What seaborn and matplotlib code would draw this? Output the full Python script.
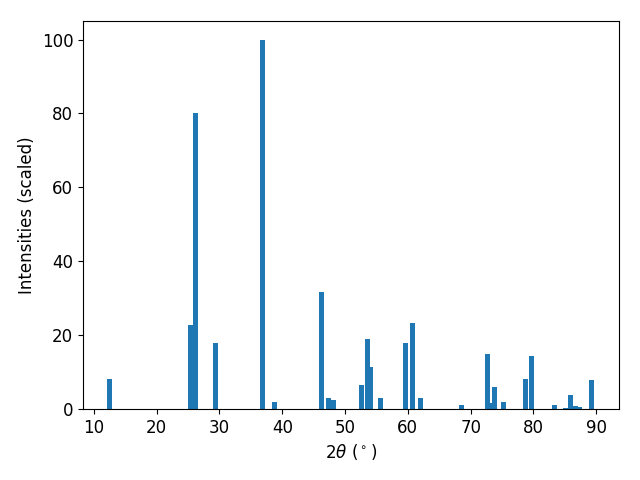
import matplotlib
matplotlib.use("Agg")
import matplotlib.pyplot as plt
import seaborn as sns

two_theta = [12.54, 25.35, 26.25, 29.3, 36.9, 38.8, 46.25, 47.36, 48.14,
             52.56, 53.6, 54.0, 55.65, 59.65, 60.67, 62.0, 68.54,
             72.67, 73.0, 73.78, 75.3, 78.7, 79.66, 83.3, 85.1, 85.9,
             86.7, 87.4, 89.2]
intensities = [8.1, 22.8, 80.2, 17.9, 100.0, 2.0, 31.7, 3.0, 2.4,
               6.5, 19.0, 11.4, 3.0, 17.9, 23.3, 3.0, 1.1,
               14.9, 1.6, 6.0, 1.9, 8.1, 14.4, 1.1, 0.3, 3.8,
               0.8, 0.6, 7.8]

sns.reset_defaults()
plt.rcParams.update({
    "font.family": ["DejaVu Sans"],
    "font.size": 12,
    "xtick.labelsize": 12,
    "ytick.labelsize": 12,
    "axes.labelsize": 12,
})

fig, ax = plt.subplots(figsize=(6.4, 4.8), dpi=100)
color = sns.color_palette("tab10")[0]
ax.bar(two_theta, intensities, width=0.8, color=color, linewidth=0)
ax.set_xlabel(r"$2\theta$ ($^\circ$)")
ax.set_ylabel("Intensities (scaled)")
ax.set_ylim(0, 105)
ax.set_xlim(8.27, 93.6)
fig.subplots_adjust(left=0.1297, right=0.967, bottom=0.148, top=0.956)
fig.savefig("out.png", dpi=100)
